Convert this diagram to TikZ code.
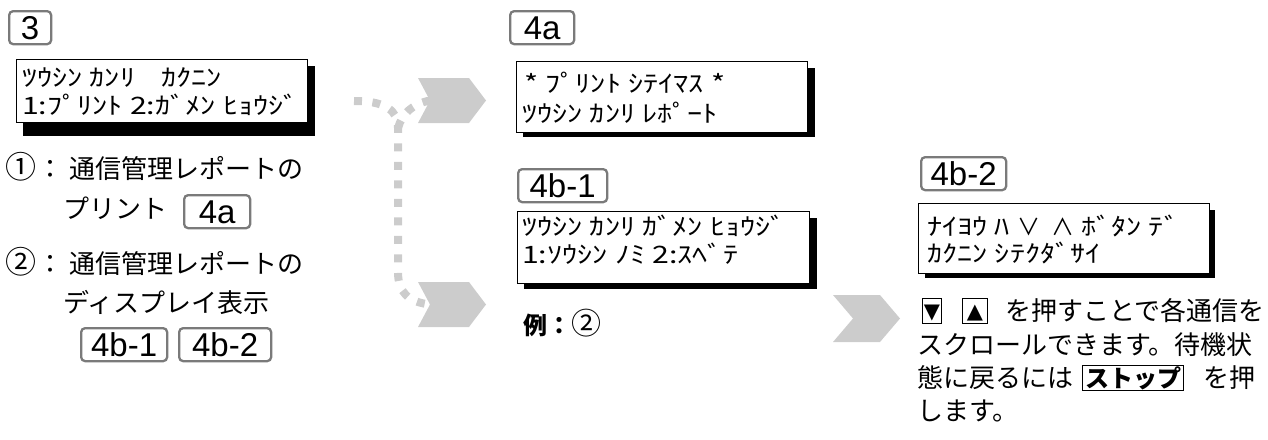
\documentclass[tikz,border=0pt]{standalone}
\usepackage{fontspec}
\setmainfont{Liberation Sans}
\newfontfamily\jp{Noto Sans CJK JP}
\newfontfamily\lcdjp[FakeStretch=1.26]{Noto Sans CJK JP}
\newfontfamily\dejavu{DejaVu Sans}
\definecolor{lblgray}{HTML}{7A7A7A}
\definecolor{chevgray}{HTML}{CCCCCC}
\newcommand\lcdfont{\lcdjp\fontsize{24}{24}\selectfont\spaceskip=0.3em\relax}
\newcommand\jpfont{\jp\fontsize{26}{26}\selectfont}
\newcommand\bignum[1]{{\fontsize{31}{26}\selectfont #1}}
\newcommand\lcdsym[1]{{\jp\fontsize{23}{23}\selectfont #1}}
\begin{document}
\begin{tikzpicture}[x=1pt,y=-1pt,
  lbl/.style={draw=lblgray, line width=2.3pt, rounded corners=4pt, fill=white, anchor=north west,
    inner sep=0pt, minimum height=33pt, font=\fontsize{33}{33}\selectfont, text height=23.7pt, text depth=0pt},
  lcd/.style={draw=black, line width=1.2pt, fill=white, anchor=north west, inner sep=0pt},
  shadowfill/.style={fill=black},
  lcdtxt/.style={anchor=base west, inner sep=0pt, font=\lcdfont},
  jtxt/.style={anchor=base west, inner sep=0pt, font=\jpfont},
  keybox/.style={draw=black, line width=1pt, anchor=north west, inner sep=0pt},
  tri/.style={keybox, minimum height=25pt, font=\dejavu\fontsize{21}{21}\selectfont, text height=14pt, text depth=0pt},
  chev/.style={fill=chevgray},
  dots/.style={draw=chevgray, line width=8pt, dash pattern=on 8pt off 10.5pt}
]
\useasboundingbox (0,0) rectangle (1268,439);

% dotted connector and chevrons
\coordinate (dA) at (354,101);
\coordinate (dJ) at (398,128);
\coordinate (dB) at (398,272);
\coordinate (c1n) at (430,100.5);
\coordinate (c2n) at (430,304.5);
\draw[dots] (dA) .. controls (385,101) and (398,110) .. (dJ) -- (dB) .. controls (398,292) and (408,302) .. (c2n);
\draw[dots] (dJ) .. controls (402,114) and (412,104) .. (c1n);
\fill[chev] (418,78) -- (469,78) -- (486,100.5) -- (469,123) -- (418,123) -- (c1n) -- cycle;
\fill[chev] (418,282) -- (469,282) -- (486,304.5) -- (469,327) -- (418,327) -- (c2n) -- cycle;
\coordinate (c3n) at (853,318.5);
\fill[chev] (833,295) -- (880,295) -- (900,318.5) -- (880,342) -- (833,342) -- (c3n) -- cycle;

% step labels
\node[lbl, minimum width=42pt] (l3) at (8,10) {3};
\node[lbl, minimum width=64pt] (l4a) at (509,10) {4a};
\node[lbl, minimum width=89pt] (l4b1) at (517,168) {4b-1};
\node[lbl, minimum width=85pt] (l4b2) at (920,156) {4b-2};

% LCD boxes with shadows
\fill[shadowfill] (23,66) rectangle (315,136);
\node[lcd, minimum width=291pt, minimum height=63pt] (d3) at (16,59) {};
\fill[shadowfill] (523,68) rectangle (815,137);
\node[lcd, minimum width=291pt, minimum height=71pt] (d4a) at (516,61) {};
\fill[shadowfill] (524,218) rectangle (817,289);
\node[lcd, minimum width=292pt, minimum height=72pt] (d4b1) at (517,211) {};
\fill[shadowfill] (925,210) rectangle (1215,278);
\node[lcd, minimum width=291pt, minimum height=70pt] (d4b2) at (918,203) {};

\node[lcdtxt] (t3a) at (22,86) {ﾂｳｼﾝ ｶﾝﾘ\hspace{1.1em}ｶｸﾆﾝ};
\node[lcdtxt] (t3b) at (22,114) {1:ﾌﾟﾘﾝﾄ 2:ｶﾞﾒﾝ ﾋｮｳｼﾞ};
\node[lcdtxt] (t4a1) at (524,92) {* ﾌﾟﾘﾝﾄ ｼﾃｲﾏｽ *};
\node[lcdtxt] (t4a2) at (522,122) {ﾂｳｼﾝ ｶﾝﾘ ﾚﾎﾟｰﾄ};
\node[lcdtxt] (t4b1a) at (522,235) {ﾂｳｼﾝ ｶﾝﾘ ｶﾞﾒﾝ ﾋｮｳｼﾞ};
\node[lcdtxt] (t4b1b) at (522,263) {1:ｿｳｼﾝ ﾉﾐ 2:ｽﾍﾞﾃ};
\node[lcdtxt] (t4b2a) at (927,235) {ﾅｲﾖｳ ﾊ \lcdsym{∨}\hspace{0.45em}\lcdsym{∧} ﾎﾞﾀﾝ ﾃﾞ};
\node[lcdtxt] (t4b2b) at (927,262) {ｶｸﾆﾝ ｼﾃｸﾀﾞｻｲ};

% left explanation
\node[jtxt] (p1) at (5,178) {\bignum{①}\hspace{1pt}：\hspace{6pt}通信管理レポートの};
\node[jtxt] (p1b) at (63,218) {プリント};
\node[lbl, minimum width=66pt] (r4a) at (183,194) {4a};
\node[jtxt] (p2) at (5,273) {\bignum{②}\hspace{1pt}：\hspace{6pt}通信管理レポートの};
\node[jtxt] (p2b) at (63,312) {ディスプレイ表示};
\node[lbl, minimum width=86pt] (r4b1) at (80,327) {4b-1};
\node[lbl, minimum width=92pt] (r4b2) at (178,327) {4b-2};

% example
\node[jtxt, font=\jp\fontsize{24}{24}\selectfont] (ex) at (523,334) {\textbf{例：}{\fontsize{30}{24}\selectfont ②}};

% right explanation
\node[tri, minimum width=19pt] (kdn) at (922,298) {▼};
\node[tri, minimum width=25pt] (kup) at (962,298) {▲};
\node[jtxt] (r1) at (1005,320) {を押すことで各通信を};
\node[jtxt] (r2) at (917,354) {スクロールできます。待機状};
\node[jtxt] (r3) at (917,387) {態に戻るには};
\node[keybox, minimum width=101pt, minimum height=25pt, font=\jp\bfseries\fontsize{24}{24}\selectfont] (kstop) at (1082,365) {ストップ};
\node[jtxt] (r3b) at (1203,387) {を押};
\node[jtxt] (r4) at (917,420) {します。};
\end{tikzpicture}
\end{document}
